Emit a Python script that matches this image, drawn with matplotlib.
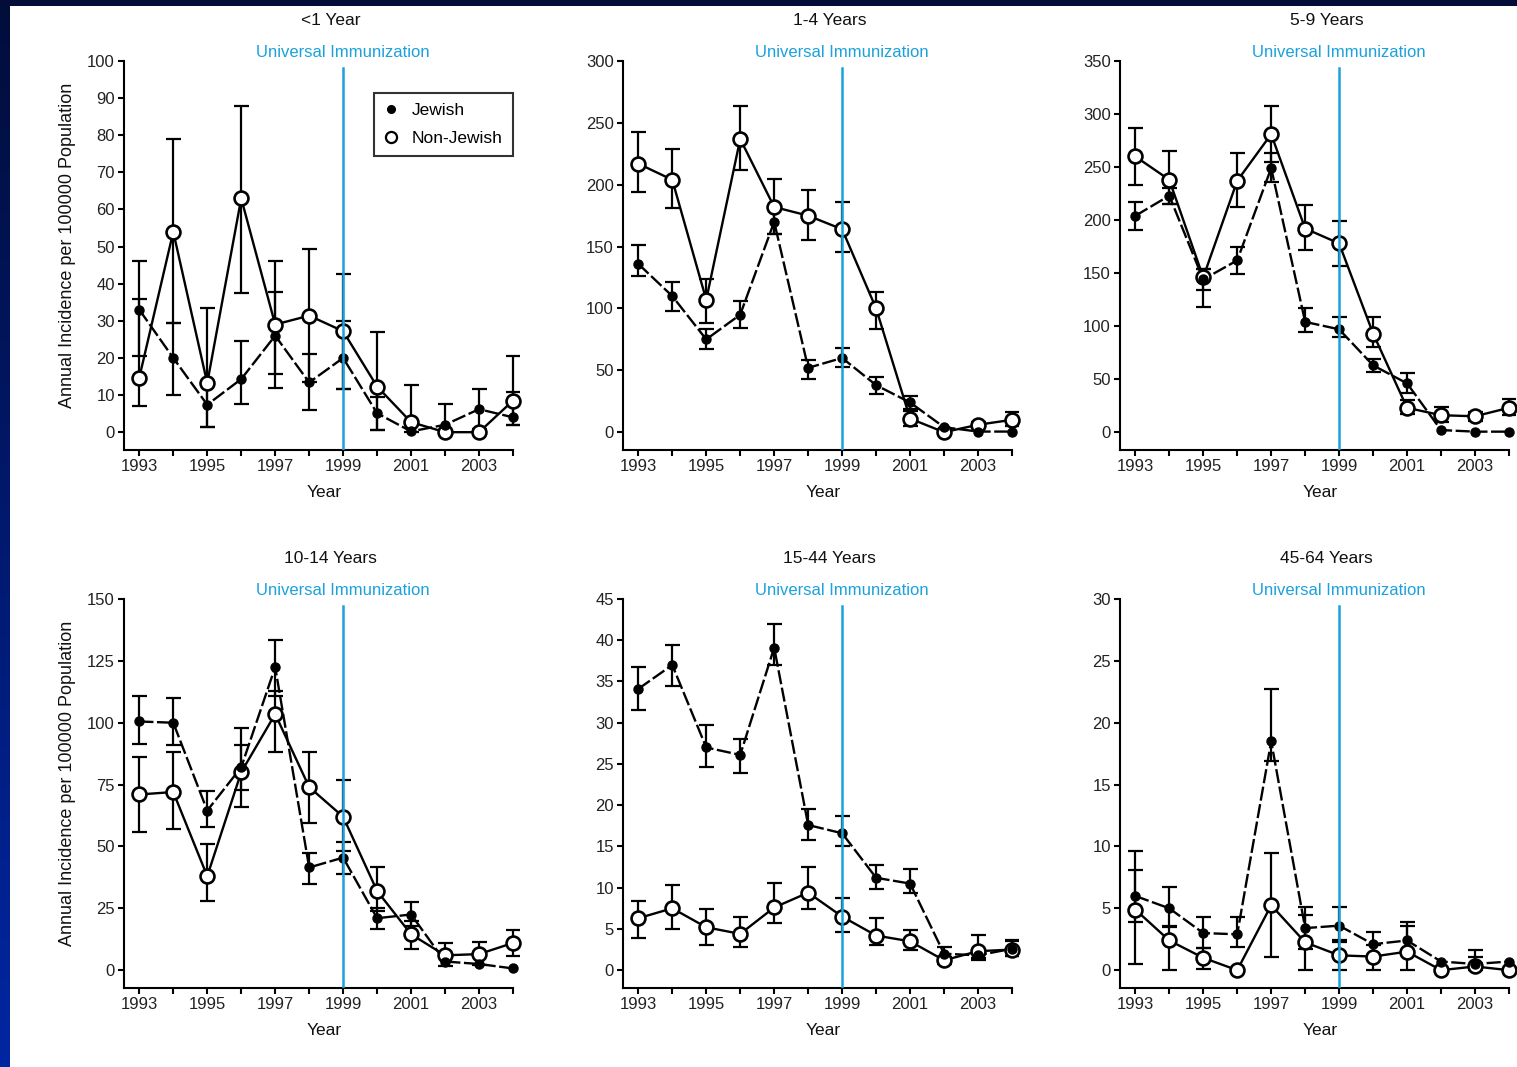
import numpy as np
import matplotlib
matplotlib.use('Agg')
import matplotlib.pyplot as plt
from matplotlib.lines import Line2D
from matplotlib.colors import LinearSegmentedColormap

plt.rcParams['font.family'] = ['Liberation Sans', 'DejaVu Sans']

# ---------------- data ----------------
years = [1993, 1994, 1995, 1996, 1997, 1998, 1999, 2000, 2001, 2002, 2003, 2004]
tick_label_years = [1993, 1995, 1997, 1999, 2001, 2003]
immunization_year = 1999
panel_titles = ['<1 Year', '1-4 Years', '5-9 Years', '10-14 Years', '15-44 Years', '45-64 Years']
y_max = [100, 300, 350, 150, 45, 30]
y_step = [10, 50, 50, 25, 5, 5]

# <1 Year
jew_lt1 = [33.0, 20.0, 7.4, 14.3, 26.0, 13.4, 20.0, 5.1, 0.2, 2.0, 6.2, 4.0]
jew_lt1_lo = [20.4, 10.0, 1.3, 7.6, 15.6, 6.0, 11.7, 0.6, 0.2, 2.0, 0.8, 2.0]
jew_lt1_hi = [46.0, 29.4, 13.4, 24.5, 37.8, 21.0, 30.0, 9.5, 0.2, 7.6, 11.6, 10.7]
non_lt1 = [14.7, 54.0, 13.2, 63.0, 29.0, 31.4, 27.2, 12.3, 2.7, 0.0, 0.0, 8.5]
non_lt1_lo = [7.1, 29.4, 1.3, 37.5, 12.0, 13.5, 11.7, 0.6, 0.0, 0.0, 0.0, 2.0]
non_lt1_hi = [36.0, 79.0, 33.4, 88.0, 46.0, 49.4, 42.7, 27.0, 12.6, 0.0, 0.0, 20.4]

# 1-4 Years
jew_1_4 = [136, 110, 75, 95, 170, 52, 60, 38, 24, 4, 0.5, 0.5]
jew_1_4_lo = [126, 98, 67, 84, 160, 43, 53, 31, 19, 4, 0.5, 0.5]
jew_1_4_hi = [151, 121, 83, 106, 180, 58, 68, 45, 29, 4, 0.5, 0.5]
non_1_4 = [217, 204, 107, 237, 182, 175, 164, 100, 11, 0, 6, 10]
non_1_4_lo = [194, 181, 88, 212, 160, 155, 146, 83, 5, 0, 4, 5]
non_1_4_hi = [243, 229, 124, 264, 205, 196, 186, 113, 17, 0, 8, 16]

# 5-9 Years
jew_5_9 = [204, 223, 144, 162, 249, 104, 97, 63, 46, 2, 0.5, 0.5]
jew_5_9_lo = [191, 215, 134, 149, 236, 94, 90, 57, 37, 2, 0.5, 0.5]
jew_5_9_hi = [217, 230, 154, 175, 263, 117, 109, 69, 56, 2, 0.5, 0.5]
non_5_9 = [260, 238, 146, 237, 281, 192, 178, 93, 23, 16, 15, 23]
non_5_9_lo = [233, 215, 118, 212, 255, 172, 157, 80, 17, 10, 11, 16]
non_5_9_hi = [287, 265, 154, 263, 308, 214, 199, 109, 30, 24, 19, 31]

# 10-14 Years
jew_10_14 = [100.5, 100.0, 64.5, 82.0, 122.5, 41.5, 45.5, 21.0, 22.5, 3.5, 2.5, 0.7]
jew_10_14_lo = [91.5, 91.0, 58.0, 73.0, 111.0, 35.0, 39.0, 16.5, 18.0, 3.5, 2.5, 0.7]
jew_10_14_hi = [111.0, 110.0, 72.5, 91.0, 133.5, 47.5, 52.0, 25.0, 27.5, 3.5, 2.5, 0.7]
non_10_14 = [71.0, 72.0, 38.0, 80.0, 103.5, 74.0, 62.0, 32.0, 14.5, 6.0, 6.5, 11.0]
non_10_14_lo = [56.0, 57.0, 28.0, 66.0, 88.0, 59.5, 48.0, 24.0, 8.5, 1.5, 2.0, 5.6]
non_10_14_hi = [86.0, 88.0, 51.0, 98.0, 113.0, 88.0, 77.0, 41.5, 20.0, 11.0, 11.5, 16.4]

# 15-44 Years
jew_15_44 = [34.1, 37.0, 27.0, 26.1, 39.1, 17.6, 16.6, 11.2, 10.5, 2.0, 1.8, 2.6]
jew_15_44_lo = [31.6, 34.4, 24.6, 23.9, 37.0, 15.8, 15.0, 9.9, 9.3, 1.2, 1.2, 1.7]
jew_15_44_hi = [36.8, 39.4, 29.7, 28.0, 42.0, 19.5, 18.7, 12.7, 12.3, 2.8, 2.5, 3.6]
non_15_44 = [6.3, 7.5, 5.2, 4.4, 7.6, 9.4, 6.5, 4.2, 3.5, 1.2, 2.3, 2.5]
non_15_44_lo = [3.9, 5.0, 3.0, 2.8, 5.7, 7.4, 4.6, 3.0, 2.5, 0.8, 1.5, 1.7]
non_15_44_hi = [8.4, 10.3, 7.4, 6.5, 10.6, 12.5, 8.7, 6.3, 4.9, 1.6, 4.3, 3.5]

# 45-64 Years
jew_45_64 = [6.0, 5.0, 3.0, 2.9, 18.5, 3.4, 3.6, 2.1, 2.4, 0.7, 0.5, 0.7]
jew_45_64_lo = [3.9, 3.5, 1.8, 1.9, 16.9, 1.7, 2.3, 1.2, 1.2, 0.7, 0.5, 0.7]
jew_45_64_hi = [8.1, 6.7, 4.3, 4.3, 22.7, 5.1, 5.1, 3.1, 3.9, 0.7, 1.6, 0.7]
non_45_64 = [4.9, 2.4, 1.0, 0.0, 5.25, 2.25, 1.2, 1.1, 1.5, 0.0, 0.3, 0.0]
non_45_64_lo = [0.5, 0.0, 0.1, 0.0, 1.1, 0.0, 0.0, 0.0, 0.0, 0.0, 0.0, 0.0]
non_45_64_hi = [9.6, 3.6, 1.8, 0.0, 9.5, 4.5, 2.4, 2.0, 3.6, 0.0, 1.1, 0.0]

panels = [
    (jew_lt1, jew_lt1_lo, jew_lt1_hi, non_lt1, non_lt1_lo, non_lt1_hi),
    (jew_1_4, jew_1_4_lo, jew_1_4_hi, non_1_4, non_1_4_lo, non_1_4_hi),
    (jew_5_9, jew_5_9_lo, jew_5_9_hi, non_5_9, non_5_9_lo, non_5_9_hi),
    (jew_10_14, jew_10_14_lo, jew_10_14_hi, non_10_14, non_10_14_lo, non_10_14_hi),
    (jew_15_44, jew_15_44_lo, jew_15_44_hi, non_15_44, non_15_44_lo, non_15_44_hi),
    (jew_45_64, jew_45_64_lo, jew_45_64_hi, non_45_64, non_45_64_lo, non_45_64_hi),
]

# ---------------- styling ----------------
W, H = 1517, 1067
BLUE = '#1ba1dc'
fig = plt.figure(figsize=(W / 100, H / 100), dpi=100, facecolor='white')

# slide background strips (navy gradient on left, dark navy on top)
grad = np.linspace(0, 1, 256).reshape(-1, 1)
navy = LinearSegmentedColormap.from_list('navy', ['#020d3a', '#0026a2'])
ax_bg = fig.add_axes([0, 0, 10 / W, 1])
ax_bg.imshow(grad, aspect='auto', cmap=navy, extent=[0, 1, 1, 0])
ax_bg.set_axis_off()
ax_top = fig.add_axes([0, 1 - 6 / H, 1, 6 / H])
ax_top.set_facecolor('#020d3a')
ax_top.set_xticks([]); ax_top.set_yticks([])
for s in ax_top.spines.values():
    s.set_visible(False)

col_left = [124, 623, 1120]
ax_w = 389
row_bottom = [450, 988]
ax_h = 389

CAP = 0.22


def draw_bars(ax, v, lo, hi):
    x = np.array(years, dtype=float)
    v = np.array(v, dtype=float)
    lo = np.array(lo, dtype=float)
    hi = np.array(hi, dtype=float)
    up = hi > v
    dn = lo < v
    kw = dict(color='black', lw=1.6, zorder=2, clip_on=False)
    ax.vlines(x[up], v[up], hi[up], **kw)
    ax.hlines(hi[up], x[up] - CAP, x[up] + CAP, **kw)
    ax.vlines(x[dn], lo[dn], v[dn], **kw)
    ax.hlines(lo[dn], x[dn] - CAP, x[dn] + CAP, **kw)


for i, (title, ymx, ystp, data) in enumerate(zip(panel_titles, y_max, y_step, panels)):
    r, c = divmod(i, 3)
    left = col_left[c] / W
    bottom = 1 - row_bottom[r] / H
    ax = fig.add_axes([left, bottom, ax_w / W, ax_h / H])
    j, jlo, jhi, n, nlo, nhi = data

    draw_bars(ax, j, jlo, jhi)
    draw_bars(ax, n, nlo, nhi)

    ax.plot(years, n, color='black', lw=1.7, ls='-', zorder=3, clip_on=False)
    ax.plot(years, j, color='black', lw=1.7, ls=(0, (6, 1.5)), zorder=3, clip_on=False)
    ax.plot(years, n, ls='none', marker='o', ms=10, mfc='white', mec='black', mew=1.9,
            zorder=4, clip_on=False)
    ax.plot(years, j, ls='none', marker='o', ms=6.5, color='black', zorder=5, clip_on=False)

    ax.axvline(immunization_year, ymin=0, ymax=0.982, color=BLUE, lw=1.8, zorder=6)

    ax.set_xlim(1992.55, 2004)
    ax.set_ylim(-0.048 * ymx, ymx)
    ax.set_xticks(years)
    ax.set_xticklabels([str(y) if y in tick_label_years else '' for y in years])
    ax.set_yticks(np.arange(0, ymx + ystp / 2, ystp))
    ax.tick_params(direction='out', length=4.5, width=1.5, labelsize=12,
                   labelcolor='#222222', pad=2)
    for s in ['top', 'right']:
        ax.spines[s].set_visible(False)
    for s in ['left', 'bottom']:
        ax.spines[s].set_linewidth(1.5)

    ax.text(0.531, 1.103, title, transform=ax.transAxes, ha='center', va='center',
            fontsize=12.5, color='#111111')
    ax.text(immunization_year, 1.023, 'Universal Immunization',
            transform=ax.get_xaxis_transform(), ha='center', va='center',
            fontsize=12, color=BLUE)
    ax.text(0.515, -0.1105, 'Year', transform=ax.transAxes, ha='center', va='center',
            fontsize=12.5, color='#111111')
    if c == 0:
        ax.text(-0.144, 0.527, 'Annual Incidence per 100000 Population',
                transform=ax.transAxes, ha='center', va='center', rotation=90,
                fontsize=13, color='#111111')
    if i == 0:
        handles = [
            Line2D([], [], ls='none', marker='o', ms=5.5, color='black'),
            Line2D([], [], ls='none', marker='o', ms=8, mfc='white', mec='black', mew=1.6),
        ]
        leg = ax.legend(handles, ['Jewish', 'Non-Jewish'], loc='upper right',
                        bbox_to_anchor=(1.0, 0.918), frameon=True, fancybox=False,
                        edgecolor='black', fontsize=12.5, handlelength=0.8,
                        handletextpad=0.8, borderpad=0.6, labelspacing=0.7,
                        borderaxespad=0)
        leg.get_frame().set_linewidth(1.5)
        leg.set_zorder(7)

fig.savefig('out.png', dpi=100, facecolor='white')
